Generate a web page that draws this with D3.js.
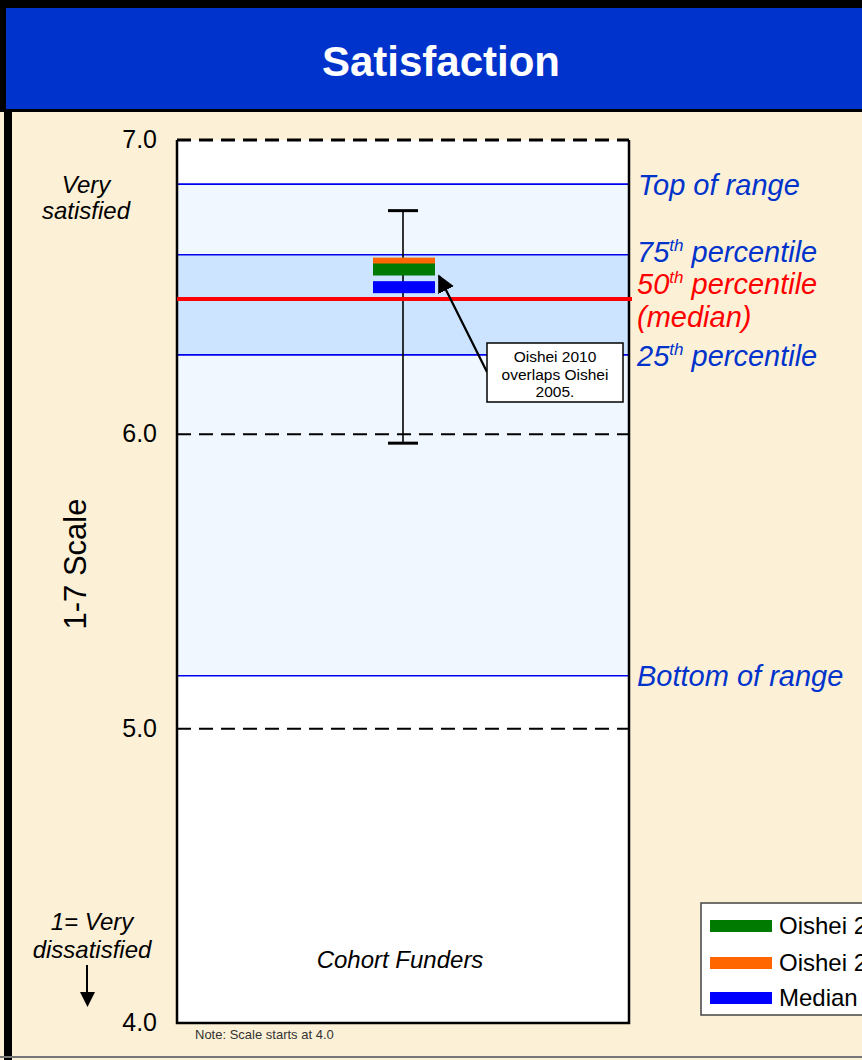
<!DOCTYPE html>
<html><head><meta charset="utf-8">
<script src="https://cdn.jsdelivr.net/npm/d3@7"></script>
<style>body{margin:0;background:#fff;}svg{display:block;font-family:Arial,"Liberation Sans",sans-serif;}</style>
</head><body>
<svg id="c" width="862" height="1060"></svg>
<script>
// ---- data ----
const categories = ["Cohort Funders"];
const seriesNames = ["Oishei 2005", "Oishei 2010", "Median Funder"];
const seriesValues = [6.58, 6.56, 6.50];
const seriesColors = ["#FF6600", "#007A00", "#0000FF"];
const legendNames = ["Oishei 2010", "Oishei 2005", "Median Funder"];
const legendColors = ["#007A00", "#FF6600", "#0000FF"];
const rangeNames = ["Top of range", "75th percentile", "25th percentile", "Bottom of range"];
const rangeValues = [6.85, 6.61, 6.27, 5.18];
const medianValue = 6.46;
const errorLow = 5.97, errorHigh = 6.76;
const yTicks = [4.0, 5.0, 6.0, 7.0];

const svg = d3.select("#c");
const W = 862, H = 1060;
const plot = {x0: 177, x1: 629, y0: 140, y1: 1023};
const y = d3.scaleLinear().domain([4, 7]).range([plot.y1, plot.y0]);
const x = d3.scaleBand().domain(categories).range([plot.x0, plot.x1]);
const cx = x(categories[0]) + x.bandwidth() / 2;

// backgrounds
svg.append("rect").attr("x", 0).attr("y", 0).attr("width", W).attr("height", H).attr("fill", "#FCF1D6");
svg.append("rect").attr("x", 0).attr("y", 0).attr("width", W).attr("height", 112).attr("fill", "#000");
svg.append("rect").attr("x", 6).attr("y", 8).attr("width", W - 6).attr("height", 101).attr("fill", "#0033CC");
svg.append("rect").attr("x", 4).attr("y", 112).attr("width", 8).attr("height", H - 112).attr("fill", "#000");
svg.append("rect").attr("x", 0).attr("y", 1056).attr("width", W).attr("height", 2).attr("fill", "#777");
svg.append("text").attr("x", 441).attr("y", 76).attr("text-anchor", "middle")
  .attr("fill", "#fff").attr("font-weight", "bold").attr("font-size", 42).text("Satisfaction");

// plot area
svg.append("rect").attr("x", plot.x0).attr("y", plot.y0).attr("width", plot.x1 - plot.x0)
  .attr("height", plot.y1 - plot.y0).attr("fill", "#fff");
svg.append("rect").attr("x", plot.x0).attr("y", y(rangeValues[0])).attr("width", plot.x1 - plot.x0)
  .attr("height", y(rangeValues[3]) - y(rangeValues[0])).attr("fill", "#F1F7FF");
svg.append("rect").attr("x", plot.x0).attr("y", y(rangeValues[1])).attr("width", plot.x1 - plot.x0)
  .attr("height", y(rangeValues[2]) - y(rangeValues[1])).attr("fill", "#CCE4FF");

// dashed grid
svg.selectAll("line.grid").data(yTicks).join("line").attr("class", "grid")
  .attr("x1", plot.x0).attr("x2", plot.x1).attr("y1", d => y(d)).attr("y2", d => y(d))
  .attr("stroke", "#000").attr("stroke-width", 2).attr("stroke-dasharray", "14,8");

// range lines
svg.selectAll("line.range").data(rangeValues).join("line").attr("class", "range")
  .attr("x1", plot.x0).attr("x2", plot.x1).attr("y1", d => y(d)).attr("y2", d => y(d))
  .attr("stroke", "#0000EE").attr("stroke-width", 1.6);

// border
svg.append("path").attr("d", `M${plot.x0},${plot.y0}V${plot.y1}H${plot.x1}V${plot.y0}`)
  .attr("fill", "none").attr("stroke", "#000").attr("stroke-width", 2.5);
svg.append("line").attr("x1", plot.x0).attr("x2", plot.x1).attr("y1", plot.y0).attr("y2", plot.y0)
  .attr("stroke", "#000").attr("stroke-width", 3).attr("stroke-dasharray", "14,8");

// error bar
const g = svg.append("g");
g.append("line").attr("x1", cx).attr("x2", cx).attr("y1", y(errorHigh)).attr("y2", y(errorLow))
  .attr("stroke", "#000").attr("stroke-width", 1.6);
[errorHigh, errorLow].forEach(v => {
  g.append("line").attr("x1", cx - 15).attr("x2", cx + 15).attr("y1", y(v)).attr("y2", y(v))
    .attr("stroke", "#000").attr("stroke-width", 3);
});

// median line
svg.append("line").attr("x1", plot.x0).attr("x2", plot.x1 + 3).attr("y1", y(medianValue)).attr("y2", y(medianValue))
  .attr("stroke", "#FF0000").attr("stroke-width", 4);

// series bars
const bh = 12, bw = 62;
svg.selectAll("rect.bar").data(seriesValues).join("rect").attr("class", "bar")
  .attr("x", cx - bw / 2 + 1).attr("width", bw).attr("y", d => y(d) - bh / 2).attr("height", bh)
  .attr("fill", (d, i) => seriesColors[i]);

// annotation
svg.append("defs").append("marker").attr("id", "ah").attr("viewBox", "0 0 10 10").attr("refX", 9).attr("refY", 5)
  .attr("markerWidth", 8).attr("markerHeight", 8).attr("orient", "auto").attr("markerUnits", "strokeWidth")
  .append("path").attr("d", "M0,0L10,5L0,10z").attr("fill", "#000");
svg.append("line").attr("x1", 487).attr("y1", 372).attr("x2", 439).attr("y2", 276)
  .attr("stroke", "#000").attr("stroke-width", 2.2).attr("marker-end", "url(#ah)");
svg.append("rect").attr("x", 487).attr("y", 343).attr("width", 136).attr("height", 59)
  .attr("fill", "#fff").attr("stroke", "#000").attr("stroke-width", 1.5);
["Oishei 2010", "overlaps Oishei", "2005."].forEach((t, i) => {
  svg.append("text").attr("x", 555).attr("y", 362 + i * 17.5).attr("text-anchor", "middle")
    .attr("font-size", 15.5).attr("fill", "#000").text(t);
});

// right labels
const lblColor = "#0033CC";
const FS = 29;
function supLabel(yv, num, rest, color) {
  const t = svg.append("text").attr("x", 637).attr("y", yv).attr("font-size", FS)
    .attr("font-style", "italic").attr("fill", color);
  t.append("tspan").text(num);
  t.append("tspan").attr("font-size", 17).attr("dy", -11).text("th");
  t.append("tspan").attr("dy", 11).text(" " + rest);
}
svg.append("text").attr("x", 638).attr("y", y(rangeValues[0]) + 11).attr("font-size", FS)
  .attr("font-style", "italic").attr("fill", lblColor).text(rangeNames[0]);
supLabel(y(rangeValues[1]) + 7, "75", "percentile", lblColor);
supLabel(y(medianValue) - 5, "50", "percentile", "#FF0000");
svg.append("text").attr("x", 637).attr("y", y(medianValue) + 28).attr("font-size", FS)
  .attr("font-style", "italic").attr("fill", "#FF0000").text("(median)");
supLabel(y(rangeValues[2]) + 11, "25", "percentile", lblColor);
svg.append("text").attr("x", 637).attr("y", y(rangeValues[3]) + 10).attr("font-size", FS)
  .attr("font-style", "italic").attr("fill", lblColor).text(rangeNames[3]);

// y ticks
svg.selectAll("text.tick").data(yTicks).join("text").attr("class", "tick")
  .attr("x", 157).attr("y", d => y(d) + 8).attr("text-anchor", "end").attr("font-size", 25)
  .text(d => d.toFixed(1));

// left annotations
[["Very", 193], ["satisfied", 219]].forEach(([t, yy]) =>
  svg.append("text").attr("x", 86).attr("y", yy).attr("text-anchor", "middle").attr("font-size", 24)
    .attr("font-style", "italic").text(t));
[["1= Very", 930], ["dissatisfied", 958]].forEach(([t, yy]) =>
  svg.append("text").attr("x", 92).attr("y", yy).attr("text-anchor", "middle").attr("font-size", 24)
    .attr("font-style", "italic").text(t));
svg.append("line").attr("x1", 87).attr("x2", 87).attr("y1", 965).attr("y2", 995).attr("stroke", "#000").attr("stroke-width", 2);
svg.append("path").attr("d", "M80,992L95,992L87.5,1007Z").attr("fill", "#000");
svg.append("text").attr("transform", "translate(86,564) rotate(-90)").attr("text-anchor", "middle")
  .attr("font-size", 31).text("1-7 Scale");

// category label
svg.append("text").attr("x", cx - 3).attr("y", 968).attr("text-anchor", "middle").attr("font-size", 24)
  .attr("font-style", "italic").text(categories[0]);
svg.append("text").attr("x", 195).attr("y", 1039).attr("font-size", 13).attr("fill", "#333").text("Note: Scale starts at 4.0");

// legend
svg.append("rect").attr("x", 701).attr("y", 903).attr("width", 200).attr("height", 112)
  .attr("fill", "#fff").attr("stroke", "#444").attr("stroke-width", 1.5);
legendNames.forEach((n, i) => {
  const ly = [926, 963, 998][i];
  svg.append("rect").attr("x", 710).attr("y", ly - 6).attr("width", 62).attr("height", 12).attr("fill", legendColors[i]);
  svg.append("text").attr("x", 779).attr("y", ly + 8).attr("font-size", 24).text(n);
});
</script>
</body></html>
